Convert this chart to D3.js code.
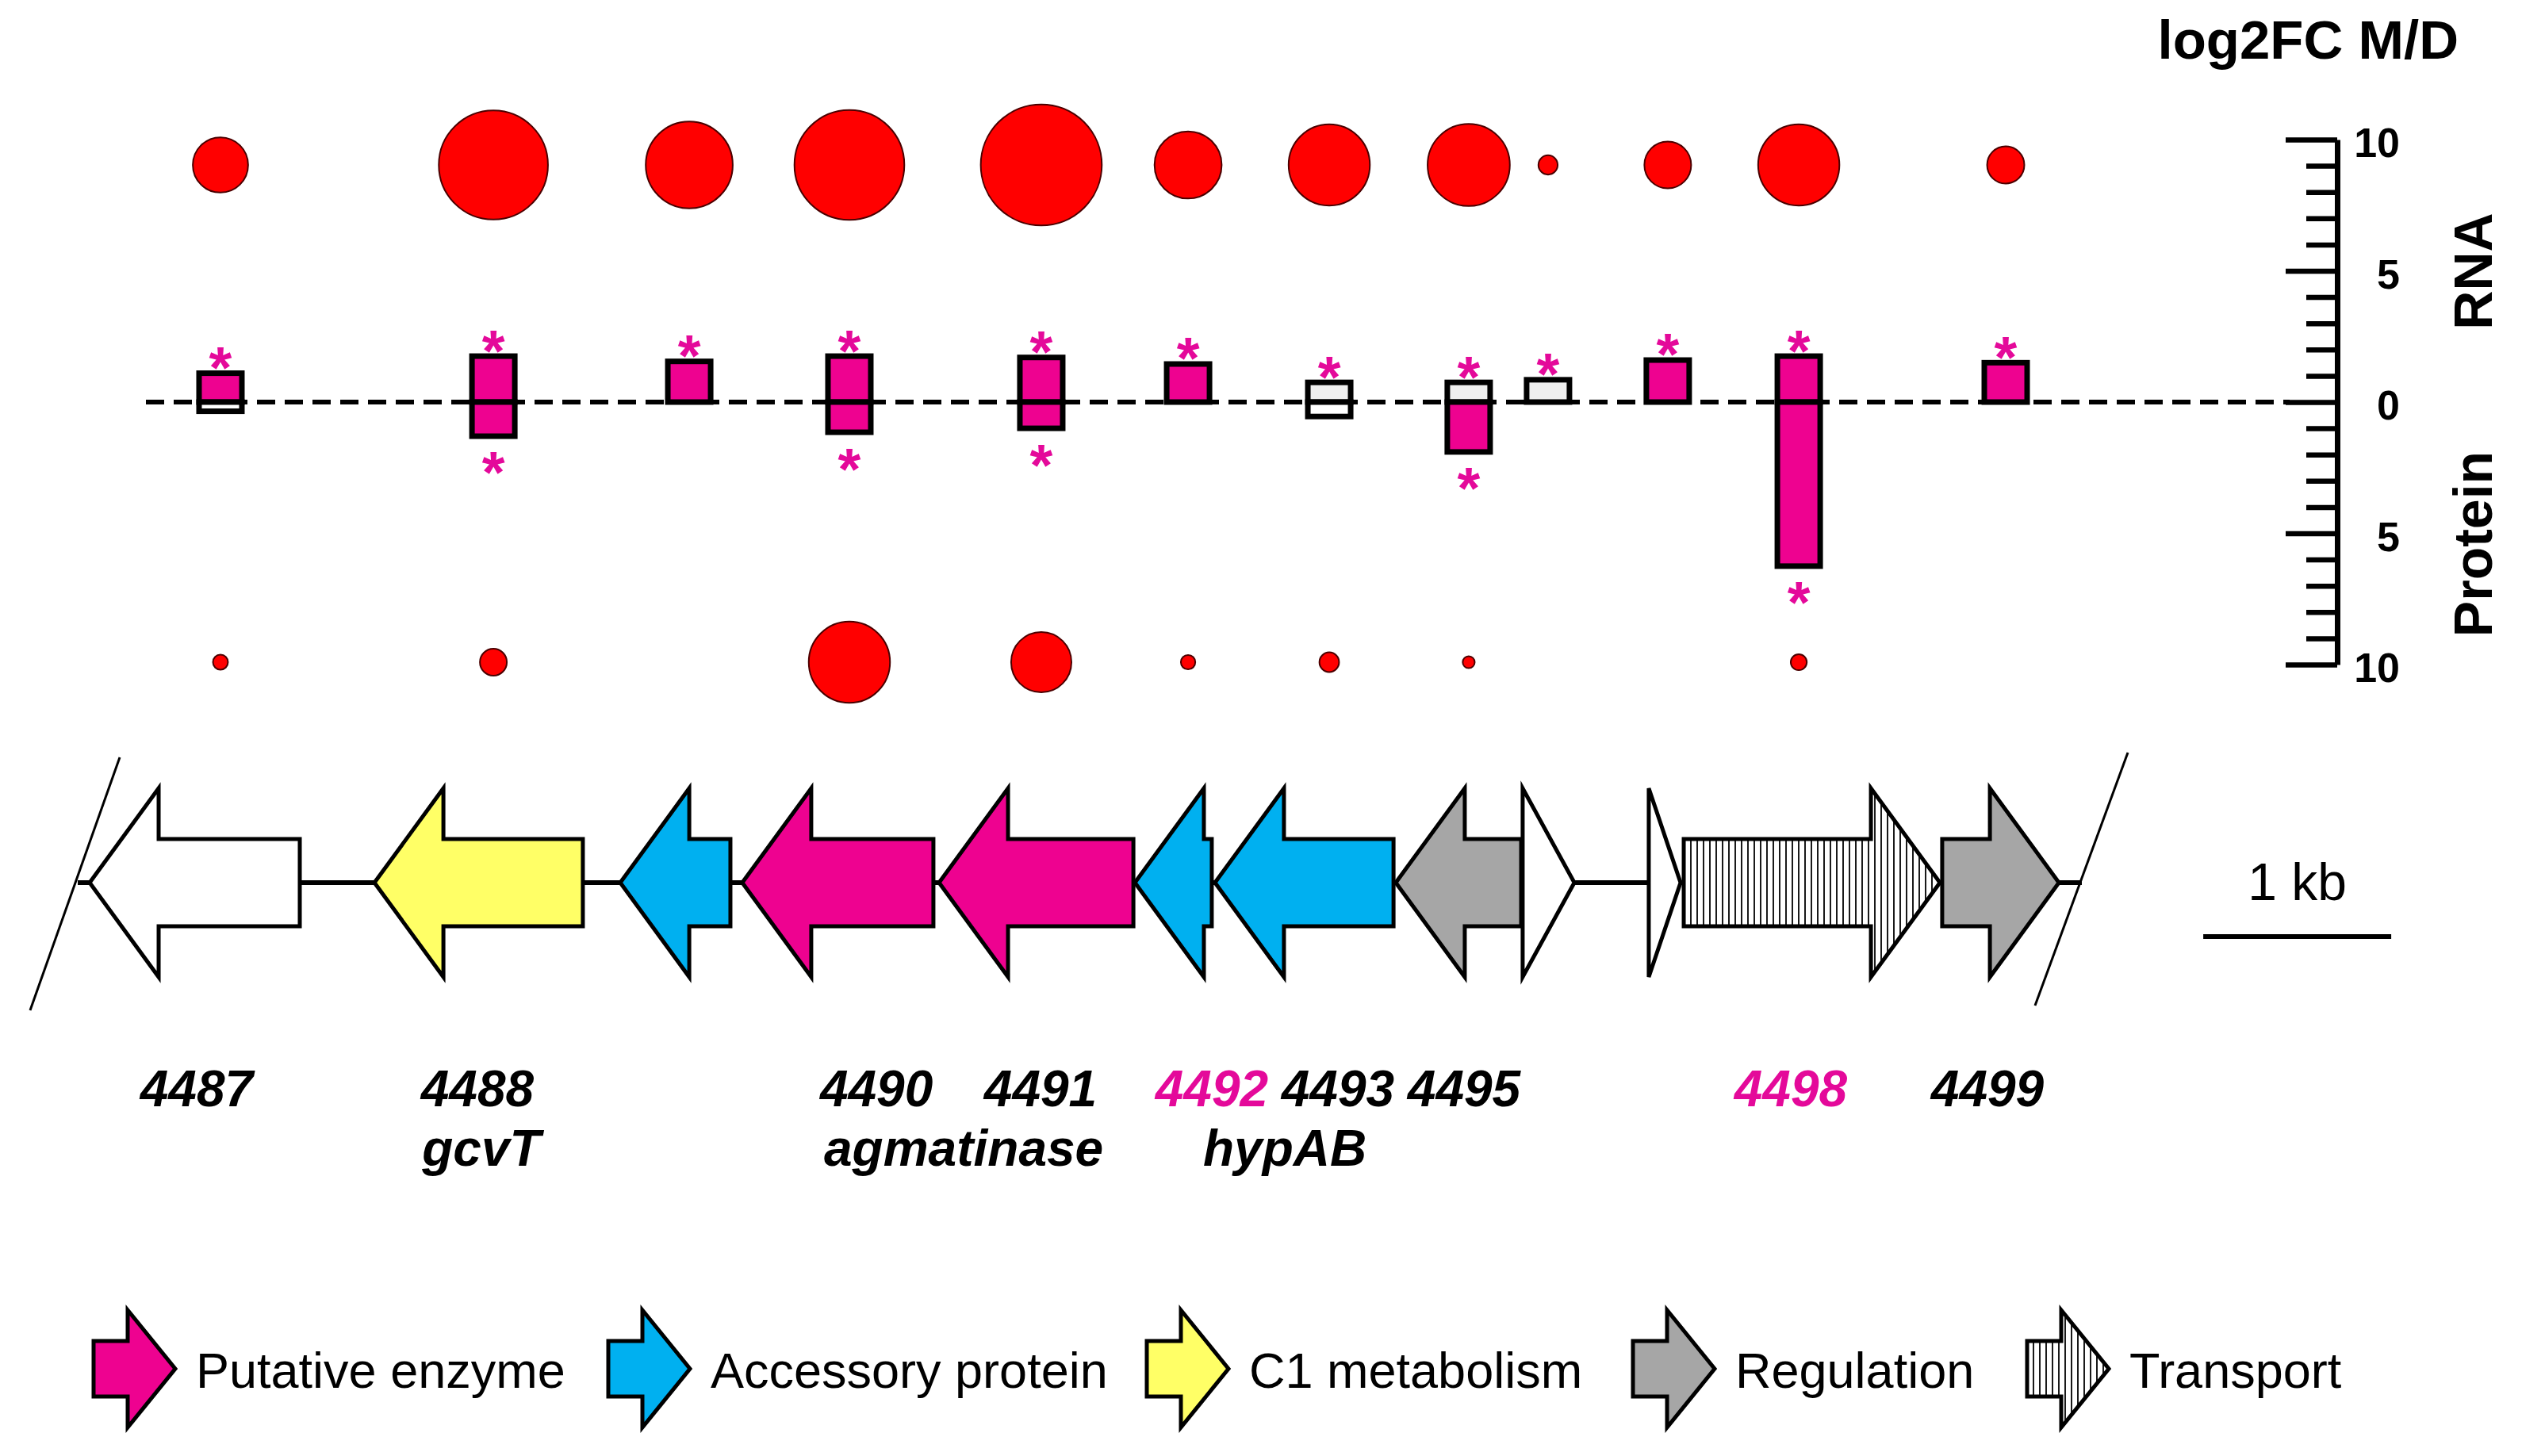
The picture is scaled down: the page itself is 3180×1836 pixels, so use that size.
<!DOCTYPE html>
<html><head><meta charset="utf-8">
<script src="https://cdn.jsdelivr.net/npm/d3@7"></script>
<style>
html,body{margin:0;padding:0;background:#fff;}
svg{display:block;}
text{font-family:"Liberation Sans",Arial,Helvetica,sans-serif;}
</style>
</head><body>
<svg id="chart" width="3180" height="1836"></svg>
<script>
// ---------------- DATA ----------------
const genes        = ["4487","4488","4489","4490","4491","4492","4493","4495","4496","4497","4498","4499"];
const geneStartKb  = [0.055, 1.570, 2.878, 3.527, 4.574, 5.616, 6.042, 7.004, 7.679, 8.350, 8.536, 9.911];
const geneEndKb    = [1.173, 2.679, 3.464, 4.544, 5.608, 6.025, 6.992, 7.671, 7.954, 8.519, 9.899, 10.532];
const geneStrand   = [-1, -1, -1, -1, -1, -1, -1, -1, 1, 1, 1, 1];
const geneClass    = ["unknown","c1","accessory","enzyme","enzyme","accessory","accessory","regulation","unknown","unknown","transport","regulation"];

// expression marks (one column per gene locus, kb)
const columnKb         = [0.751, 2.203, 3.245, 4.097, 5.118, 5.899, 6.650, 7.392, 7.814, 8.451, 9.148, 10.249];
const rnaLog2FC        = [1.10, 1.75, 1.55, 1.75, 1.70, 1.45, 0.75, 0.75, 0.85, 1.60, 1.75, 1.50];
const proteinLog2FC    = [0.35, 1.30, 0, 1.15, 1.00, 0, 0.55, 1.90, 0, 0, 6.25, 0];
const rnaStatus        = ["sig","sig","sig","sig","sig","sig","na","na","na","sig","sig","sig"];
const proteinStatus    = ["ns","sig","none","sig","sig","none","ns","sig","none","none","sig","none"];
const rnaStar          = [true,true,true,true,true,true,true,true,true,true,true,true];
const proteinStar      = [false,true,false,true,true,false,false,true,false,false,true,false];
const rnaAbundance     = [19, 74, 47, 75, 91, 28, 41, 42, 2.3, 13.6, 41, 8.6];
const proteinAbundance = [1.4, 4.5, 0, 41, 22.6, 1.3, 2.4, 0.9, 0, 0, 1.6, 0];

const axisTicks      = d3.range(-10, 11);
const axisLabelTicks = [-10, -5, 0, 5, 10];

const labelTexts     = ["4487","4488","gcvT","4490","4491","agmatinase","4492","hypAB","4493","4495","4498","4499"];
const labelKb        = [0.624, 2.118, 2.139, 4.241, 5.114, 4.705, 6.025, 6.414, 6.696, 7.367, 9.105, 10.152];
const labelRow       = [0, 0, 1, 0, 0, 1, 0, 1, 0, 0, 0, 0];
const labelHighlight = [false,false,false,false,false,false,true,false,false,false,true,false];

const legendClasses = ["enzyme","accessory","c1","regulation","transport"];
const legendLabels  = ["Putative enzyme","Accessory protein","C1 metabolism","Regulation","Transport"];

// ---------------- STYLE / LAYOUT ----------------
const classColor = {enzyme:"#EE0290", accessory:"#00B0F0", c1:"#FFFF66", regulation:"#A6A6A6", transport:"url(#stripes)", unknown:"#FFFFFF"};
const statusColor = {sig:"#EE0290", ns:"#FFFFFF", na:"#EFEFEF"};
const magenta = "#E4099A";

const svg = d3.select("#chart");
svg.append("rect").attr("width",3180).attr("height",1836).attr("fill","#fff");

const defs = svg.append("defs");
const pat = defs.append("pattern").attr("id","stripes").attr("patternUnits","userSpaceOnUse")
  .attr("width",8).attr("height",8);
pat.append("rect").attr("width",8).attr("height",8).attr("fill","#fff");
pat.append("line").attr("x1",4).attr("x2",4).attr("y1",0).attr("y2",8).attr("stroke","#000").attr("stroke-width",1.8);

const x = d3.scaleLinear().domain([0, 12.3]).range([100, 100 + 12.3*237]);
const y = d3.scaleLinear().domain([-10, 10]).range([838, 176]);
const r = d3.scaleSqrt().domain([0, 100]).range([0, 80]);

const axisX = 2947;
const rnaRowY = 208, protRowY = 835;
const barW = 54;

// title
svg.append("text").attr("x",3100).attr("y",74).attr("text-anchor","end")
  .attr("font-weight","bold").attr("font-size",69).text("log2FC M/D");

// dashed zero line
svg.append("line").attr("x1",184).attr("x2",axisX-60).attr("y1",y(0)).attr("y2",y(0))
  .attr("stroke","#000").attr("stroke-width",6).attr("stroke-dasharray","23,12");

// axis
const axG = svg.append("g").attr("transform",`translate(${axisX},0)`);
axG.call(d3.axisLeft(y).tickValues(axisTicks).tickSize(39).tickSizeOuter(0).tickFormat(""));
axG.selectAll("path.domain").attr("stroke","#000").attr("stroke-width",7);
axG.selectAll(".tick line").attr("stroke","#000").attr("stroke-width",6.5)
  .attr("x2", d => (d % 5 === 0) ? -65 : -39);
const axL = svg.append("g").attr("transform",`translate(${axisX},0)`);
axL.call(d3.axisRight(y).tickValues(axisLabelTicks).tickSize(0).tickFormat(d => Math.abs(d)));
axL.select("path.domain").remove();
axL.attr("font-size",52);
axL.selectAll(".tick text").attr("x",79).attr("dy","0.42em").attr("text-anchor","end")
  .style("font-size","52px").style("font-weight","bold").attr("fill","#000")
  .style("font-family","'Liberation Sans',Arial,sans-serif");

// side labels
svg.append("text").attr("transform","translate(3142,342) rotate(-90)").attr("text-anchor","middle")
  .attr("font-weight","bold").attr("font-size",68).text("RNA");
svg.append("text").attr("transform","translate(3142,686) rotate(-90)").attr("text-anchor","middle")
  .attr("font-weight","bold").attr("font-size",68).text("Protein");

const cols = genes.map((g,i) => ({g, i, kb: columnKb[i], rna: rnaLog2FC[i], prot: proteinLog2FC[i],
  rs: rnaStatus[i], ps: proteinStatus[i], rstar: rnaStar[i], pstar: proteinStar[i],
  ra: rnaAbundance[i], pa: proteinAbundance[i]}));

// circles
svg.append("g").selectAll("circle.rna").data(cols.filter(d=>d.ra>0)).join("circle")
  .attr("cx", d=>x(d.kb)).attr("cy", rnaRowY).attr("r", d=>r(d.ra))
  .attr("fill","#FF0000").attr("stroke","#4a0000").attr("stroke-width",2);
svg.append("g").selectAll("circle.prot").data(cols.filter(d=>d.pa>0)).join("circle")
  .attr("cx", d=>x(d.kb)).attr("cy", protRowY).attr("r", d=>r(d.pa))
  .attr("fill","#FF0000").attr("stroke","#4a0000").attr("stroke-width",2);

// bars
const barG = svg.append("g");
barG.selectAll("rect.rna").data(cols.filter(d=>d.rna>0)).join("rect")
  .attr("x", d=>x(d.kb)-barW/2).attr("width",barW)
  .attr("y", d=>y(d.rna)).attr("height", d=>y(0)-y(d.rna))
  .attr("fill", d=>statusColor[d.rs]).attr("stroke","#000").attr("stroke-width",7);
barG.selectAll("rect.prot").data(cols.filter(d=>d.prot>0)).join("rect")
  .attr("x", d=>x(d.kb)-barW/2).attr("width",barW)
  .attr("y", y(0)).attr("height", d=>y(-d.prot)-y(0))
  .attr("fill", d=>statusColor[d.ps]).attr("stroke","#000").attr("stroke-width",7);

// stars
const starSize = 74;
barG.selectAll("text.rstar").data(cols.filter(d=>d.rstar)).join("text")
  .attr("x", d=>x(d.kb)).attr("y", d=>y(d.rna) - 23 + starSize*0.56)
  .attr("text-anchor","middle").attr("font-size",starSize).attr("font-weight","bold")
  .attr("fill",magenta).text("*");
barG.selectAll("text.pstar").data(cols.filter(d=>d.pstar)).join("text")
  .attr("x", d=>x(d.kb)).attr("y", d=>y(-d.prot) + 30 + starSize*0.56)
  .attr("text-anchor","middle").attr("font-size",starSize).attr("font-weight","bold")
  .attr("fill",magenta).text("*");

// ---------------- GENE MAP ----------------
const cy = 1113, bodyH = 55, headH = 119, headLen = 87;
function arrowPath(x0, x1, dir, cy, bh, hh, hl) {
  const len = x1 - x0, h = Math.min(hl, len);
  let pts;
  if (dir > 0) {
    const xb = x1 - h;
    pts = (h >= len) ? [[x0,cy-hh],[x1,cy],[x0,cy+hh]]
      : [[x0,cy-bh],[xb,cy-bh],[xb,cy-hh],[x1,cy],[xb,cy+hh],[xb,cy+bh],[x0,cy+bh]];
  } else {
    const xb = x0 + h;
    pts = (h >= len) ? [[x1,cy-hh],[x0,cy],[x1,cy+hh]]
      : [[x1,cy-bh],[xb,cy-bh],[xb,cy-hh],[x0,cy],[xb,cy+hh],[xb,cy+bh],[x1,cy+bh]];
  }
  return "M" + pts.map(p=>p.join(",")).join("L") + "Z";
}
const mapG = svg.append("g");
// backbone
mapG.append("line").attr("x1", 98).attr("x2", 2625).attr("y1", cy).attr("y2", cy)
  .attr("stroke","#000").attr("stroke-width",6);
// genes
mapG.selectAll("path.gene").data(genes.map((g,i)=>({g, s:geneStartKb[i], e:geneEndKb[i], dir:geneStrand[i], c:geneClass[i]})))
  .join("path")
  .attr("d", d=>arrowPath(x(d.s), x(d.e), d.dir, cy, bodyH, headH, headLen))
  .attr("fill", d=>classColor[d.c]).attr("stroke","#000").attr("stroke-width",5)
  .attr("stroke-linejoin","miter").attr("stroke-miterlimit",6);
// break marks
mapG.append("line").attr("x1",151).attr("y1",955).attr("x2",38).attr("y2",1274).attr("stroke","#000").attr("stroke-width",3);
mapG.append("line").attr("x1",2683).attr("y1",949).attr("x2",2566).attr("y2",1268).attr("stroke","#000").attr("stroke-width",3);

// scale bar (1 kb)
mapG.append("line").attr("x1", x(11.3)).attr("x2", x(12.3)).attr("y1",1181).attr("y2",1181)
  .attr("stroke","#000").attr("stroke-width",6);
mapG.append("text").attr("x", x(11.8)).attr("y",1135).attr("text-anchor","middle")
  .attr("font-size",66).text("1 kb");

// gene labels
const rowBase = [1395, 1470];
svg.append("g").selectAll("text").data(labelTexts.map((t,i)=>({t, kb:labelKb[i], row:labelRow[i], h:labelHighlight[i]})))
  .join("text")
  .attr("x", d=>x(d.kb)).attr("y", d=>rowBase[d.row]).attr("text-anchor","middle")
  .attr("font-size",64).attr("font-weight","bold").attr("font-style","italic")
  .attr("fill", d=>d.h ? magenta : "#000").text(d=>d.t);

// ---------------- LEGEND ----------------
const legendX = [118, 767, 1446, 2059, 2556];
const lcy = 1726;
const legG = svg.append("g");
legendClasses.forEach((c,i) => {
  const x0 = legendX[i];
  legG.append("path").attr("d", arrowPath(x0, x0+103, 1, lcy, 35, 74, 60))
    .attr("fill", classColor[c]).attr("stroke","#000").attr("stroke-width",5)
    .attr("stroke-linejoin","miter").attr("stroke-miterlimit",6);
  legG.append("text").attr("x", x0+129).attr("y", 1750).attr("font-size",63).text(legendLabels[i]);
});
</script>
</body></html>
